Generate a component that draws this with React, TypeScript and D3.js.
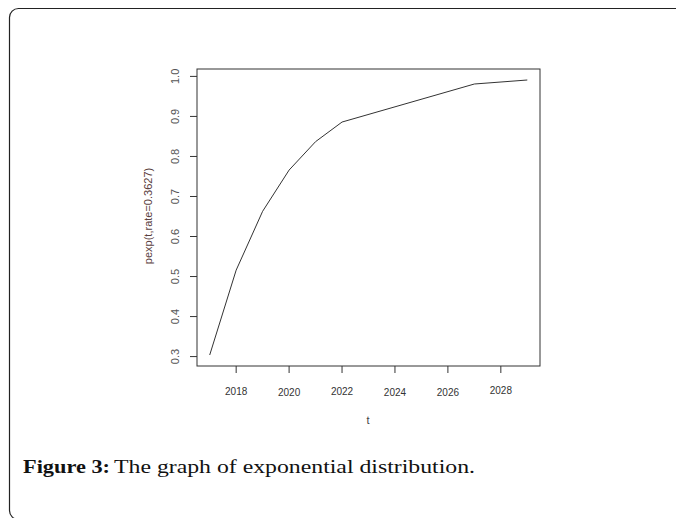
import React from "react";
import * as d3 from "d3";

const years = [2017, 2018, 2019, 2020, 2021, 2022, 2027, 2029];
const values = [0.304, 0.516, 0.663, 0.766, 0.837, 0.886, 0.981, 0.991];
const xTicks = [2018, 2020, 2022, 2024, 2026, 2028];
const xTickJitter = [0, 1, 0, 1, 1, -1];
const yTicks = [0.3, 0.4, 0.5, 0.6, 0.7, 0.8, 0.9, 1.0];

export default function App() {
  const W = 676, H = 518;
  const left = 197, right = 540, top = 69, bottom = 366;
  const x = d3.scaleLinear().domain([2016.52, 2029.48]).range([left, right]);
  const y = d3.scaleLinear().domain([0.2765, 1.0185]).range([bottom, top]);
  const line = d3.line<number>().x((_, i) => x(years[i])).y((d) => y(d));
  return (
    <div style={{ position: "absolute", left: 0, top: 0 }}>
      <svg width={W} height={H} style={{ display: "block", background: "#fff" }}>
        <rect x={9.5} y={8.5} width={720} height={511} rx={9} ry={9} fill="#fff" stroke="#222" strokeWidth={1.2} />
        <rect x={left} y={top} width={right - left} height={bottom - top} fill="none" stroke="#333" strokeWidth={1} />
        <path d={line(values) || ""} fill="none" stroke="#333" strokeWidth={1} />
        {xTicks.map((t, i) => (
          <g key={t}>
            <line x1={x(t)} x2={x(t)} y1={bottom} y2={bottom + 7} stroke="#333" />
            <text x={x(t)} y={395 + xTickJitter[i]} textAnchor="middle" fontFamily="Liberation Sans, Arial, sans-serif" fontSize={10} fill="#333">{t}</text>
          </g>
        ))}
        <text x={368} y={424} textAnchor="middle" fontFamily="Liberation Sans, Arial, sans-serif" fontSize={11} fill="#444">t</text>
        {yTicks.map((v) => (
          <g key={v}>
            <line x1={left} x2={left - 7} y1={y(v)} y2={y(v)} stroke="#333" />
            <text transform={`translate(${179},${y(v)}) rotate(-90)`} textAnchor="middle" fontFamily="Liberation Sans, Arial, sans-serif" fontSize={11} fill="#555">{v.toFixed(1)}</text>
          </g>
        ))}
        <text transform={`translate(${152},${216}) rotate(-90)`} textAnchor="middle" fontFamily="Liberation Sans, Arial, sans-serif" fontSize={11} fill="#5a4040">pexp(t,rate=0.3627)</text>
        <text x={23} y={473} fontFamily="Liberation Serif, serif" fontSize={19.5} fontWeight="bold" fill="#111" textLength={87} lengthAdjust="spacingAndGlyphs">Figure 3:</text>
        <text x={114} y={473} fontFamily="Liberation Serif, serif" fontSize={19.5} fill="#111" textLength={361} lengthAdjust="spacingAndGlyphs">The graph of exponential distribution.</text>
      </svg>
    </div>
  );
}
